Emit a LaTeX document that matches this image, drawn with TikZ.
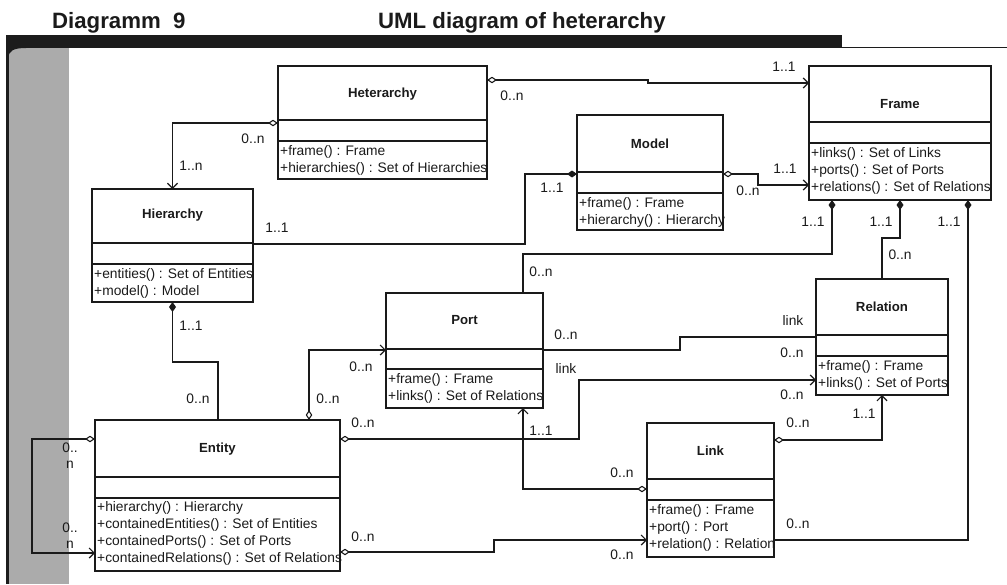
\documentclass[tikz,border=0pt]{standalone}
\usepackage{fontspec}
\setmainfont{Liberation Sans}
\usetikzlibrary{arrows.meta,calc}

\definecolor{ink}{HTML}{1A1A1A}
\definecolor{barblack}{HTML}{1C1C1C}
\definecolor{colgrey}{HTML}{ABABAB}

% class box: name, x, y (top left), width, height, offsets of the two dividers
\newcommand{\umlbox}[7]{%
  \node[cls, anchor=north west, minimum width=#4pt, minimum height=#5pt] (#1) at (#2,#3) {};
  \draw[clsline] ($(#1.north west)+(0,#6)$) -- ($(#1.north east)+(0,#6)$);
  \draw[clsline] ($(#1.north west)+(0,#7)$) -- ($(#1.north east)+(0,#7)$);
}

\tikzset{
  odia/.tip={Diamond[open,length=10pt,width=6.5pt,line width=1.1pt]},
  fdia/.tip={Diamond[length=10pt,width=7pt]},
  barb/.tip={Straight Barb[length=5pt,width=10pt,line width=1.2pt]},
}

\begin{document}
\begin{tikzpicture}[x=1pt,y=-1pt,
  cls/.style={draw=ink, line width=1.4pt, inner sep=0pt, outer sep=0pt, rectangle},
  clsline/.style={draw=ink, line width=1.4pt},
  ctitle/.style={font=\bfseries\fontsize{13.2}{15}\selectfont, text=ink, inner sep=0pt},
  ops/.style={font=\fontsize{13.8}{17.2}\selectfont, text=ink, align=left, inner sep=0pt, anchor=north west},
  mult/.style={font=\fontsize{13.8}{16}\selectfont, text=ink, inner sep=0pt, align=center},
  conn/.style={draw=ink, line width=1.3pt},
  heading/.style={font=\bfseries\fontsize{22.2}{25}\selectfont, text=ink, inner sep=0pt, anchor=base west},
]
\useasboundingbox (0,0) rectangle (1007,584);

% page frame: grey margin column, black rule and bar
\fill[colgrey] (8.5,48) rectangle (68.5,584);
\fill[barblack] (5.5,35) rectangle (8.5,584);
\fill[barblack] (5.5,35) rectangle (842,48);
\fill[barblack] (8.5,47) -- (8.5,58) .. controls (8.5,51) and (13,48) .. (26,48) -- cycle;
\draw[barblack, line width=1pt] (842,47) -- (1007,47);

\node[heading] (hd1) at (52,28) {Diagramm~~9};
\node[heading] (hd2) at (378,28) {UML diagram of heterarchy};

% classes
\umlbox{het}{278}{66}{209}{113}{54}{75}
\umlbox{hier}{92}{189}{161}{113}{54}{75}
\umlbox{frm}{809}{66}{182}{134}{56}{77}
\umlbox{mdl}{577}{115}{146}{115}{57}{78}
\umlbox{prt}{386}{293}{157}{115}{56}{76}
\umlbox{rel}{816}{279}{132}{116}{56}{77}
\umlbox{ent}{95}{420}{245}{151}{57}{78}
\umlbox{lnk}{647}{423}{127}{134}{56}{77}

\node[ctitle] (het-t) at ($(het.north)+(0,28)$) {Heterarchy};
\node[ctitle] (hier-t) at ($(hier.north)+(0,26)$) {Hierarchy};
\node[ctitle] (frm-t) at ($(frm.north)+(0,38)$) {Frame};
\node[ctitle] (mdl-t) at ($(mdl.north)+(0,28.5)$) {Model};
\node[ctitle] (prt-t) at ($(prt.north)+(0,27)$) {Port};
\node[ctitle] (rel-t) at ($(rel.north)+(0,28)$) {Relation};
\node[ctitle] (ent-t) at ($(ent.north)+(0,29)$) {Entity};
\node[ctitle] (lnk-t) at ($(lnk.north)+(0,28)$) {Link};

\node[ops] (het-o) at ($(het.north west)+(2,79)$) {+frame() : Frame\\+hierarchies() : Set of Hierarchies};
\node[ops] (hier-o) at ($(hier.north west)+(2,79)$) {+entities() : Set of Entities\\+model() : Model};
\node[ops] (frm-o) at ($(frm.north west)+(2,81)$) {+links() : Set of Links\\+ports() : Set of Ports\\+relations() : Set of Relations};
\node[ops] (mdl-o) at ($(mdl.north west)+(2,82)$) {+frame() : Frame\\+hierarchy() : Hierarchy};
\node[ops] (prt-o) at ($(prt.north west)+(2,80)$) {+frame() : Frame\\+links() : Set of Relations};
\node[ops] (rel-o) at ($(rel.north west)+(2,81)$) {+frame() : Frame\\+links() : Set of Ports};
\node[ops] (ent-o) at ($(ent.north west)+(2,81)$) {+hierarchy() : Hierarchy\\+containedEntities() : Set of Entities\\+containedPorts() : Set of Ports\\+containedRelations() : Set of Relations};
\node[ops] (lnk-o) at ($(lnk.north west)+(2,81)$) {+frame() : Frame\\+port() : Port\\+relation() : Relation};

% associations
\draw[conn, odia-barb] (het.east |- 0,80) -- (648,80) -- (648,83) -- (frm.west |- 0,83);
\draw[conn, odia-barb] (het.west |- 0,123) -| (hier.north);
\draw[conn, -fdia] (hier.east |- 0,244) -- (525,244) -- (525,174) -- (mdl.west |- 0,174);
\draw[conn, odia-barb] (mdl.east |- 0,174) -- (758,174) -- (758,185) -- (frm.west |- 0,185);
\draw[conn, fdia-] (frm.south -| 832,0) -- (832,254) -- (523,254) -- (prt.north -| 523,0);
\draw[conn, fdia-] (frm.south -| 900,0) -- (900,238) -- (882,238) -- (rel.north);
\draw[conn, fdia-] (frm.south -| 968,0) -- (968,540) -- (lnk.east |- 0,540);
\draw[conn, fdia-] (hier.south) -- (hier.south |- 0,362) -- (218,362) -- (ent.north -| 218,0);
\draw[conn, odia-barb] (ent.north -| 309,0) -- (309,350) -- (prt.west |- 0,350);
\draw[conn, odia-barb] (ent.west |- 0,439) -- (32,439) -- (32,553) -- (ent.west |- 0,553);
\draw[conn, odia-barb] (ent.east |- 0,439) -- (579,439) -- (579,380) -- (rel.west |- 0,380);
\draw[conn] (prt.east |- 0,350) -- (680,350) -- (680,337) -- (rel.west |- 0,337);
\draw[conn, odia-barb] (lnk.west |- 0,489) -| (prt.south -| 523,0);
\draw[conn, odia-barb] (lnk.east |- 0,440) -| (rel.south);
\draw[conn, odia-barb] (ent.east |- 0,552) -- (494,552) -- (494,540) -- (lnk.west |- 0,540);

% multiplicities and role names
\node[mult] (m1) at (512,95.5) {0..n};
\node[mult] (m2) at (784,67) {1..1};
\node[mult] (m3) at (253,139) {0..n};
\node[mult] (m4) at (191,166) {1..n};
\node[mult] (m5) at (277,228) {1..1};
\node[mult] (m6) at (552,188) {1..1};
\node[mult] (m7) at (748,191) {0..n};
\node[mult] (m8) at (785,169) {1..1};
\node[mult] (m9) at (813,222) {1..1};
\node[mult] (m10) at (881,222) {1..1};
\node[mult] (m11) at (949,222) {1..1};
\node[mult] (m12) at (541,272) {0..n};
\node[mult] (m13) at (900,255) {0..n};
\node[mult] (m14) at (191,326) {1..1};
\node[mult] (m15) at (198,399) {0..n};
\node[mult] (m16) at (361,367) {0..n};
\node[mult] (m17) at (328,399) {0..n};
\node[mult] (m18) at (70,456) {0..\\n};
\node[mult] (m19) at (70,535.5) {0..\\n};
\node[mult] (m20) at (363,423) {0..n};
\node[mult] (m21) at (566,368) {link};
\node[mult] (m22) at (792,395) {0..n};
\node[mult] (m23) at (566,335) {0..n};
\node[mult] (m24) at (793,320) {link};
\node[mult] (m25) at (792,353) {0..n};
\node[mult] (m26) at (622,473) {0..n};
\node[mult] (m27) at (541,431) {1..1};
\node[mult] (m28) at (798,423) {0..n};
\node[mult] (m29) at (864,414) {1..1};
\node[mult] (m30) at (363,537) {0..n};
\node[mult] (m31) at (622,555) {0..n};
\node[mult] (m32) at (798,524) {0..n};
\end{tikzpicture}
\end{document}
